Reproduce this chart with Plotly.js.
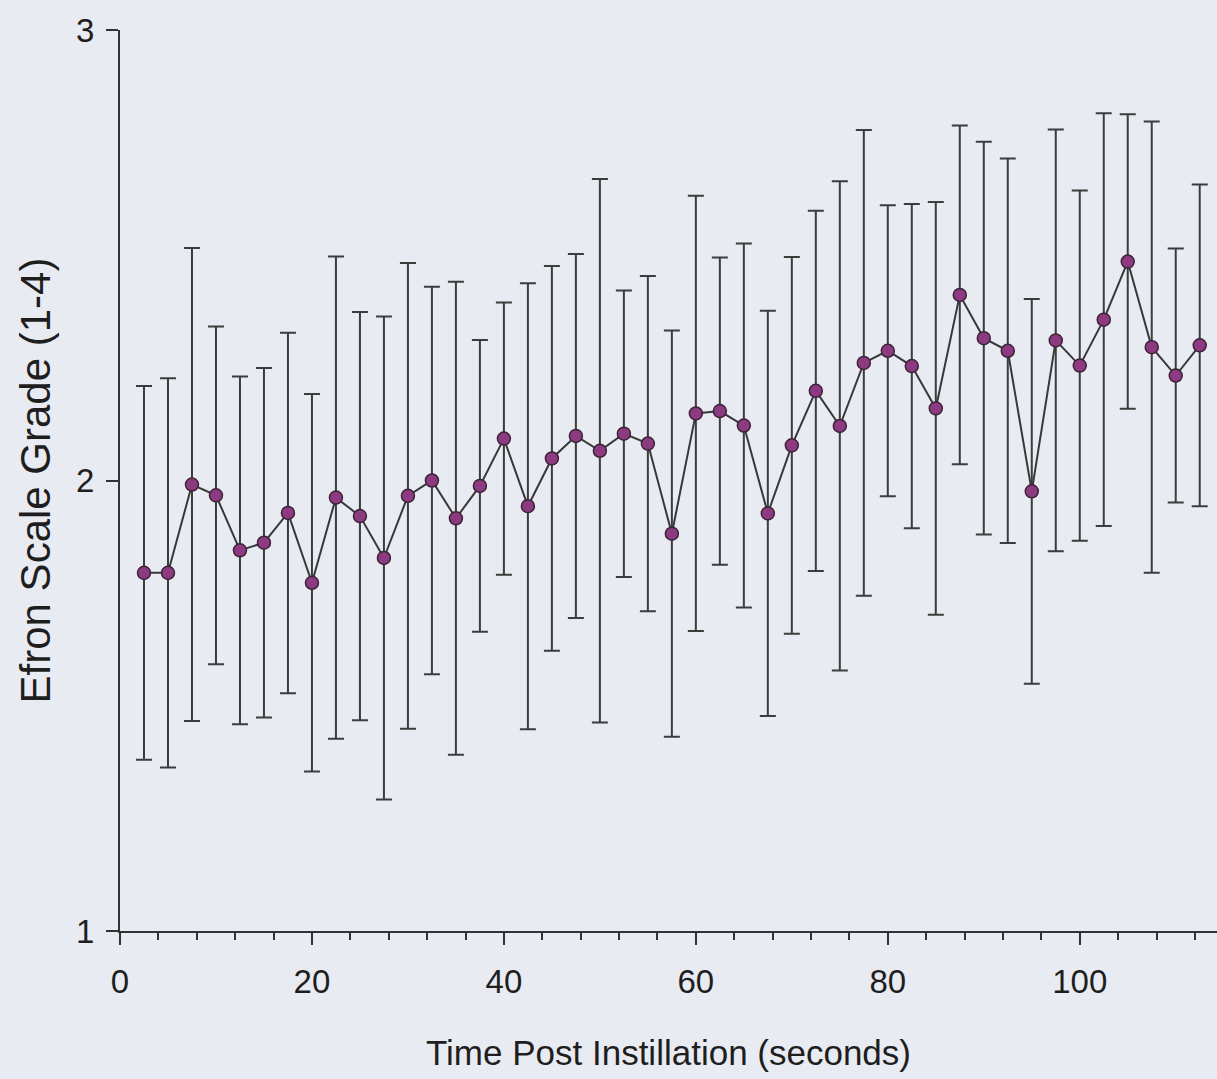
<!DOCTYPE html>
<html>
<head>
<meta charset="utf-8">
<script src="https://cdn.plot.ly/plotly-3.0.1.min.js"></script>
<style>
  html, body { margin: 0; padding: 0; background: #e9ebf2; }
  #chart { width: 1217px; height: 1079px; }
</style>
</head>
<body>
<div id="chart"></div>
<script>
// Time post instillation (seconds)
var timeSec = [2.5, 5, 7.5, 10, 12.5, 15, 17.5, 20, 22.5, 25, 27.5, 30, 32.5, 35, 37.5, 40, 42.5, 45, 47.5, 50,
               52.5, 55, 57.5, 60, 62.5, 65, 67.5, 70, 72.5, 75, 77.5, 80, 82.5, 85, 87.5, 90, 92.5, 95, 97.5, 100,
               102.5, 105, 107.5, 110, 112.5];
// Mean Efron scale grade
var meanGrade = [1.795, 1.795, 1.991, 1.967, 1.845, 1.862, 1.928, 1.773, 1.962, 1.921,
                 1.828, 1.966, 2.000, 1.916, 1.988, 2.093, 1.943, 2.049, 2.099, 2.066,
                 2.104, 2.082, 1.882, 2.149, 2.154, 2.122, 1.927, 2.078, 2.199, 2.121,
                 2.261, 2.288, 2.254, 2.160, 2.412, 2.316, 2.288, 1.976, 2.311, 2.255,
                 2.357, 2.486, 2.296, 2.233, 2.300];
// Standard deviation (error bar half-length)
var sdGrade = [0.415, 0.432, 0.525, 0.375, 0.386, 0.388, 0.400, 0.419, 0.535, 0.453,
               0.536, 0.517, 0.430, 0.525, 0.324, 0.302, 0.495, 0.427, 0.404, 0.603,
               0.318, 0.372, 0.451, 0.483, 0.341, 0.404, 0.450, 0.418, 0.400, 0.543,
               0.517, 0.323, 0.360, 0.458, 0.376, 0.436, 0.427, 0.427, 0.468, 0.389,
               0.458, 0.327, 0.501, 0.282, 0.357];
var xTicks = [0, 20, 40, 60, 80, 100];
var yTicks = [1, 2, 3];
var xTitle = 'Time Post Instillation (seconds)';
var yTitle = 'Efron Scale Grade (1-4)';

var axisColor = '#333333';
var fontFam = 'Liberation Sans, Arial, sans-serif';

var trace = {
  type: 'scatter',
  mode: 'lines+markers',
  x: timeSec,
  y: meanGrade,
  line: { color: '#383838', width: 2 },
  marker: { size: 13, color: '#8e3a82', line: { color: '#3a2436', width: 1.5 } },
  error_y: { type: 'data', array: sdGrade, visible: true, color: '#3c3c3c', thickness: 2, width: 8 },
  cliponaxis: false,
  showlegend: false
};

var layout = {
  width: 1217,
  height: 1079,
  margin: { l: 120, r: 0, t: 30, b: 148 },
  paper_bgcolor: '#e9ebf2',
  plot_bgcolor: '#e9ebf2',
  font: { family: fontFam, color: '#1e1e1e' },
  xaxis: {
    range: [0, 114.3],
    tickvals: xTicks,
    ticks: 'outside',
    ticklen: 12,
    tickwidth: 2,
    tickcolor: axisColor,
    showline: true,
    linecolor: axisColor,
    linewidth: 2,
    showgrid: false,
    zeroline: false,
    ticklabelstandoff: 8,
    tickfont: { family: fontFam, size: 33, color: '#1e1e1e' },
    minor: { dtick: 4, tick0: 0, ticks: 'outside', ticklen: 7, tickwidth: 2, tickcolor: axisColor, showgrid: false },
    title: { text: xTitle, font: { family: fontFam, size: 35, color: '#1e1e1e' }, standoff: 42 },
    automargin: false
  },
  yaxis: {
    range: [1, 3],
    tickvals: yTicks,
    ticks: 'outside',
    ticklen: 12,
    tickwidth: 2,
    tickcolor: axisColor,
    showline: true,
    linecolor: axisColor,
    linewidth: 2,
    showgrid: false,
    zeroline: false,
    ticklabelstandoff: 5,
    tickfont: { family: fontFam, size: 33, color: '#1e1e1e' },
    title: { text: yTitle, font: { family: fontFam, size: 42, color: '#1e1e1e' }, standoff: 12 },
    automargin: false
  }
};

Plotly.newPlot('chart', [trace], layout, { displayModeBar: false, staticPlot: true });
</script>
</body>
</html>
